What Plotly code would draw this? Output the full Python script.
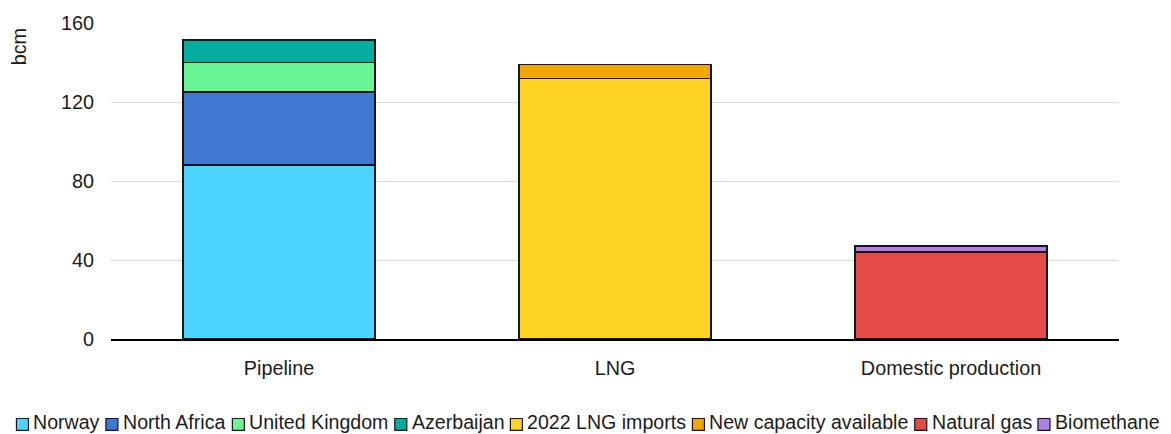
import plotly.graph_objects as go

# ---- data -------------------------------------------------------------
categories = ["Pipeline", "LNG", "Domestic production"]

series_names = [
    "Norway",
    "North Africa",
    "United Kingdom",
    "Azerbaijan",
    "2022 LNG imports",
    "New capacity available",
    "Natural gas",
    "Biomethane",
]

norway = [88, None, None]
north_africa = [37, None, None]
united_kingdom = [15, None, None]
azerbaijan = [11.5, None, None]
lng_imports_2022 = [None, 132, None]
lng_new_capacity = [None, 7, None]
natural_gas = [None, None, 44]
biomethane = [None, None, 3]

y_ticks = [0, 40, 80, 120, 160]
y_label = "bcm"

series_values = [
    norway,
    north_africa,
    united_kingdom,
    azerbaijan,
    lng_imports_2022,
    lng_new_capacity,
    natural_gas,
    biomethane,
]

series_colors = [
    "#4BD5FE",
    "#3E78D2",
    "#69F593",
    "#00AD9F",
    "#FED321",
    "#F0A800",
    "#E44B47",
    "#B07FE7",
]

# ---- layout constants ----------------------------------------------------
W, H = 1171, 434
M_L, M_R, M_T, M_B = 111, 52, 21, 95
PLOT_W = W - M_L - M_R
PLOT_H = H - M_T - M_B
FONT = "Liberation Sans"
FONT_SIZE = 19.8
LEGEND_SIZE = 19.6
TEXT_COLOR = "#1b1b1b"

fig = go.Figure()
for name, vals, col in zip(series_names, series_values, series_colors):
    fig.add_trace(
        go.Bar(
            name=name,
            x=categories,
            y=vals,
            marker=dict(color=col, line=dict(color="#161616", width=1.5)),
            showlegend=False,
        )
    )

# ---- custom single-row legend (squares + labels) --------------------------
# Arial / Liberation Sans advance widths (per 1000 em)
ARIAL_W = {
    " ": 278, "0": 556, "1": 556, "2": 556, "3": 556, "4": 556, "5": 556,
    "6": 556, "7": 556, "8": 556, "9": 556,
    "A": 667, "B": 667, "C": 722, "D": 722, "E": 667, "F": 611, "G": 778,
    "H": 722, "I": 278, "J": 500, "K": 667, "L": 556, "M": 833, "N": 722,
    "O": 778, "P": 667, "Q": 778, "R": 722, "S": 667, "T": 611, "U": 722,
    "V": 667, "W": 944, "X": 667, "Y": 667, "Z": 611,
    "a": 556, "b": 556, "c": 500, "d": 556, "e": 556, "f": 278, "g": 556,
    "h": 556, "i": 222, "j": 222, "k": 500, "l": 222, "m": 833, "n": 556,
    "o": 556, "p": 556, "q": 556, "r": 333, "s": 500, "t": 278, "u": 556,
    "v": 500, "w": 722, "x": 500, "y": 500, "z": 500,
}


def text_width(s, size):
    return sum(ARIAL_W.get(c, 556) for c in s) * size / 1000.0


SQ = 12            # legend square size (px)
GAP_SQ_TXT = 4     # square -> label
GAP_ITEM = 7       # label -> next square
SQ_BOTTOM = 431    # legend square bottom edge (px from top)
TEXT_CY = 423      # vertical centre of legend labels (px from top)

widths = [text_width(n, LEGEND_SIZE) for n in series_names]
total = sum(SQ + GAP_SQ_TXT + w for w in widths) + GAP_ITEM * (len(widths) - 1)
x = (W - total) / 2.0 + 2


def px_to_paper_x(px):
    return (px - M_L) / PLOT_W


def px_to_paper_y(py):
    return (H - M_B - py) / PLOT_H


for name, col, w in zip(series_names, series_colors, widths):
    fig.add_shape(
        type="rect",
        xref="paper", yref="paper",
        x0=px_to_paper_x(x), x1=px_to_paper_x(x + SQ),
        y0=px_to_paper_y(SQ_BOTTOM),
        y1=px_to_paper_y(SQ_BOTTOM - SQ),
        fillcolor=col,
        line=dict(color="#161616", width=1.2),
    )
    tx = x + SQ + GAP_SQ_TXT
    fig.add_annotation(
        xref="paper", yref="paper",
        x=px_to_paper_x(tx - 1), y=px_to_paper_y(TEXT_CY),
        xanchor="left", yanchor="middle",
        text=name, showarrow=False,
        font=dict(family=FONT, size=LEGEND_SIZE, color=TEXT_COLOR),
    )
    x = tx + w + GAP_ITEM

# ---- y-axis unit label, top-left and rotated ----------------------------
fig.add_annotation(
    xref="paper", yref="paper",
    x=px_to_paper_x(18.5), y=px_to_paper_y(45),
    xanchor="center", yanchor="middle",
    text=y_label, textangle=-90, showarrow=False,
    font=dict(family=FONT, size=FONT_SIZE, color=TEXT_COLOR),
)

fig.update_layout(
    width=W,
    height=H,
    margin=dict(l=M_L, r=M_R, t=M_T, b=M_B, pad=0),
    paper_bgcolor="white",
    plot_bgcolor="white",
    barmode="stack",
    bargap=0.429,
    showlegend=False,
    font=dict(family=FONT, size=FONT_SIZE, color=TEXT_COLOR),
    xaxis=dict(
        showgrid=False,
        showline=True,
        linecolor="#000000",
        linewidth=2,
        ticks="",
        ticklabelstandoff=10,
        tickfont=dict(family=FONT, size=FONT_SIZE, color=TEXT_COLOR),
    ),
    yaxis=dict(
        range=[0, 160],
        tickvals=y_ticks,
        showgrid=True,
        gridcolor="#DADADA",
        gridwidth=1,
        zeroline=False,
        showline=False,
        ticks="",
        ticklabelstandoff=16,
        tickfont=dict(family=FONT, size=FONT_SIZE, color=TEXT_COLOR),
    ),
)

fig.write_html("out.html", config={"displayModeBar": False})
